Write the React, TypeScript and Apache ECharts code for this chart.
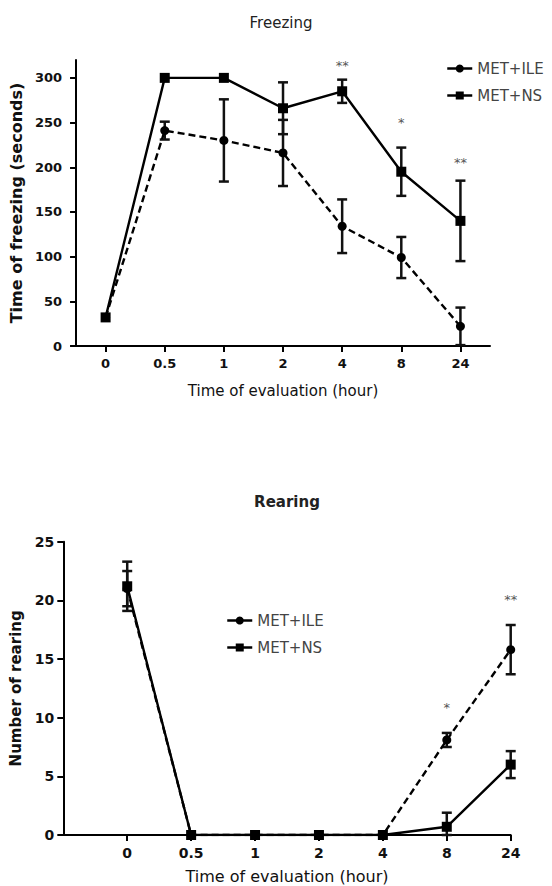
import React, { useEffect, useRef } from 'react';
import * as echarts from 'echarts';

// ---------- data ----------
const categories = ['0', '0.5', '1', '2', '4', '8', '24'];
const seriesNames = ['MET+ILE', 'MET+NS'];

const freezingILE = [32, 241, 230, 216, 134, 99, 22];
const freezingILEErr = [0, 10, 46, 37, 30, 23, 21];
const freezingNS = [32, 300, 300, 266, 285, 195, 140];
const freezingNSErr = [0, 0, 0, 29, 13, 27, 45];
const freezingStars = ['', '', '', '', '**', '*', '**'];
const freezingStarY = [0, 0, 0, 0, 314, 250, 205];
const freezingTicks = [0, 50, 100, 150, 200, 250, 300];

const rearingILE = [21.0, 0, 0, 0, 0, 8.1, 15.8];
const rearingILEErr = [1.5, 0, 0, 0, 0, 0.6, 2.1];
const rearingNS = [21.2, 0, 0, 0, 0, 0.7, 6.0];
const rearingNSErr = [2.1, 0, 0, 0, 0, 1.2, 1.15];
const rearingStars = ['', '', '', '', '', '*', '**'];
const rearingStarY = [0, 0, 0, 0, 0, 10.9, 20.1];

const FONT = 'DejaVu Sans';

function errData(vals: number[], errs: number[], offset: number) {
  const out: number[][] = [];
  vals.forEach((v, i) => {
    if (errs[i] > 0) out.push([i + offset, Math.max(0, v - errs[i]), v + errs[i]]);
  });
  return out;
}

function starData(labels: string[], ys: number[], offset: number) {
  const out: any[] = [];
  labels.forEach((s, i) => {
    if (s) out.push({ value: [i + offset, ys[i]], star: s });
  });
  return out;
}

function renderErr(_params: any, api: any) {
  const x = api.value(0);
  const lo = api.value(1);
  const hi = api.value(2);
  const a = api.coord([x, hi]);
  const b = api.coord([x, lo]);
  const w = 5;
  const st = { stroke: '#111', lineWidth: 2.5 };
  return {
    type: 'group',
    children: [
      { type: 'line', shape: { x1: a[0], y1: a[1], x2: b[0], y2: b[1] }, style: st },
      { type: 'line', shape: { x1: a[0] - w, y1: a[1], x2: a[0] + w, y2: a[1] }, style: st },
      { type: 'line', shape: { x1: b[0] - w, y1: b[1], x2: b[0] + w, y2: b[1] }, style: st },
    ],
  };
}

const axisLineStyle = { show: true, lineStyle: { color: '#000', width: 2 } };
const tickStyle = { show: true, length: 6, lineStyle: { color: '#000', width: 2 } };

function starSeries(idx: number, data: any[]) {
  return {
    type: 'scatter',
    xAxisIndex: idx,
    yAxisIndex: idx,
    symbolSize: 1,
    itemStyle: { color: 'rgba(0,0,0,0)' },
    data,
    label: {
      show: true,
      position: 'inside',
      formatter: (p: any) => p.data.star,
      fontFamily: FONT,
      fontSize: 13,
      color: '#555',
      opacity: 1,
    },
    silent: true,
    z: 5,
  };
}

export default function App() {
  const ref = useRef<HTMLDivElement>(null);
  useEffect(() => {
    if (!ref.current) return;
    const chart = echarts.init(ref.current, undefined, { renderer: 'svg' });
    const rearingCats = ['', ...categories];

    const lineSeries = (name: string, data: any[], xi: number, dashed: boolean, symbol: string, size: number) => ({
      type: 'line',
      name,
      xAxisIndex: xi,
      yAxisIndex: xi,
      data,
      symbol,
      symbolSize: size,
      showSymbol: true,
      itemStyle: { color: '#000' },
      lineStyle: { color: '#000', width: 2.4, type: dashed ? [7, 4] : 'solid' },
      z: 3,
    });

    const legendBase = {
      data: seriesNames,
      orient: 'vertical',
      itemWidth: 25,
      itemHeight: 10,
      itemGap: 12,
      lineStyle: { type: 'solid', width: 2.5 },
      textStyle: { fontFamily: FONT, fontSize: 15, color: '#444' },
      selectedMode: false,
    };

    const option: any = {
      animation: false,
      backgroundColor: '#fff',
      grid: [
        { left: 71.7, top: 60, width: 418.3, height: 286 },
        { left: 63.3, top: 541.7, width: 447.4, height: 293.3 },
      ],
      legend: [
        { ...legendBase, left: 441, top: 56 },
        { ...legendBase, left: 221, top: 608 },
      ],
      xAxis: [
        {
          type: 'category',
          gridIndex: 0,
          data: categories,
          boundaryGap: true,
          axisLine: axisLineStyle,
          axisTick: { ...tickStyle, alignWithLabel: true },
          axisLabel: { margin: 11, color: '#111', fontFamily: FONT, fontWeight: 'bold', fontSize: 13, interval: 0 },
          name: 'Time of evaluation (hour)',
          nameLocation: 'middle',
          nameGap: 37,
          nameTextStyle: { fontFamily: FONT, fontSize: 15, color: '#111' },
          splitLine: { show: false },
        },
        {
          type: 'category',
          gridIndex: 1,
          data: rearingCats,
          boundaryGap: false,
          axisLine: axisLineStyle,
          axisTick: { ...tickStyle, interval: (i: number) => i !== 0 },
          axisLabel: { margin: 11, color: '#111', fontFamily: FONT, fontWeight: 'bold', fontSize: 14, interval: 0 },
          name: 'Time of evaluation (hour)',
          nameLocation: 'middle',
          nameGap: 33,
          nameTextStyle: { fontFamily: FONT, fontSize: 16, color: '#111' },
          splitLine: { show: false },
        },
      ],
      yAxis: [
        {
          type: 'value',
          gridIndex: 0,
          min: 0,
          max: 320,
          interval: 50,
          axisLine: axisLineStyle,
          axisTick: { ...tickStyle, customValues: freezingTicks },
          axisLabel: { margin: 14, color: '#111', fontFamily: FONT, fontWeight: 'bold', fontSize: 13, customValues: freezingTicks },
          splitLine: { show: false },
          name: 'Time of freezing (seconds)',
          nameLocation: 'middle',
          nameGap: 46,
          nameTextStyle: { fontFamily: FONT, fontSize: 16, fontWeight: 'bold', color: '#111' },
        },
        {
          type: 'value',
          gridIndex: 1,
          min: 0,
          max: 25,
          interval: 5,
          axisLine: axisLineStyle,
          axisTick: tickStyle,
          axisLabel: { margin: 9, color: '#111', fontFamily: FONT, fontWeight: 'bold', fontSize: 14 },
          splitLine: { show: false },
          name: 'Number of rearing',
          nameLocation: 'middle',
          nameGap: 36,
          nameTextStyle: { fontFamily: FONT, fontSize: 15, fontWeight: 'bold', color: '#111' },
        },
      ],
      graphic: [
        {
          type: 'text',
          x: 281,
          y: 23,
          style: { text: 'Freezing', fontFamily: FONT, fontSize: 15, fill: '#222', textAlign: 'center', textVerticalAlign: 'middle' },
        },
        {
          type: 'text',
          x: 287,
          y: 502,
          style: { text: 'Rearing', fontFamily: FONT, fontSize: 15, fontWeight: 'bold', fill: '#222', textAlign: 'center', textVerticalAlign: 'middle' },
        },
      ],
      series: [
        // Freezing
        {
          type: 'custom',
          xAxisIndex: 0,
          yAxisIndex: 0,
          renderItem: renderErr,
          data: errData(freezingILE, freezingILEErr, 0),
          encode: { x: 0, y: [1, 2] },
          z: 2,
          silent: true,
        },
        {
          type: 'custom',
          xAxisIndex: 0,
          yAxisIndex: 0,
          renderItem: renderErr,
          data: errData(freezingNS, freezingNSErr, 0),
          encode: { x: 0, y: [1, 2] },
          z: 2,
          silent: true,
        },
        lineSeries('MET+ILE', freezingILE, 0, true, 'circle', 9),
        lineSeries('MET+NS', freezingNS, 0, false, 'rect', 10),
        starSeries(0, starData(freezingStars, freezingStarY, 0)),
        // Rearing
        {
          type: 'custom',
          xAxisIndex: 1,
          yAxisIndex: 1,
          renderItem: renderErr,
          data: errData(rearingILE, rearingILEErr, 1),
          encode: { x: 0, y: [1, 2] },
          z: 2,
          silent: true,
        },
        {
          type: 'custom',
          xAxisIndex: 1,
          yAxisIndex: 1,
          renderItem: renderErr,
          data: errData(rearingNS, rearingNSErr, 1),
          encode: { x: 0, y: [1, 2] },
          z: 2,
          silent: true,
        },
        lineSeries('MET+ILE', [null, ...rearingILE], 1, true, 'circle', 9),
        lineSeries('MET+NS', [null, ...rearingNS], 1, false, 'rect', 10),
        starSeries(1, starData(rearingStars, rearingStarY, 1)),
      ],
    };
    chart.setOption(option);
    return () => chart.dispose();
  }, []);

  return (
    <div
      ref={ref}
      style={{ position: 'absolute', left: 0, top: 0, width: 552, height: 886, background: '#fff' }}
    />
  );
}
